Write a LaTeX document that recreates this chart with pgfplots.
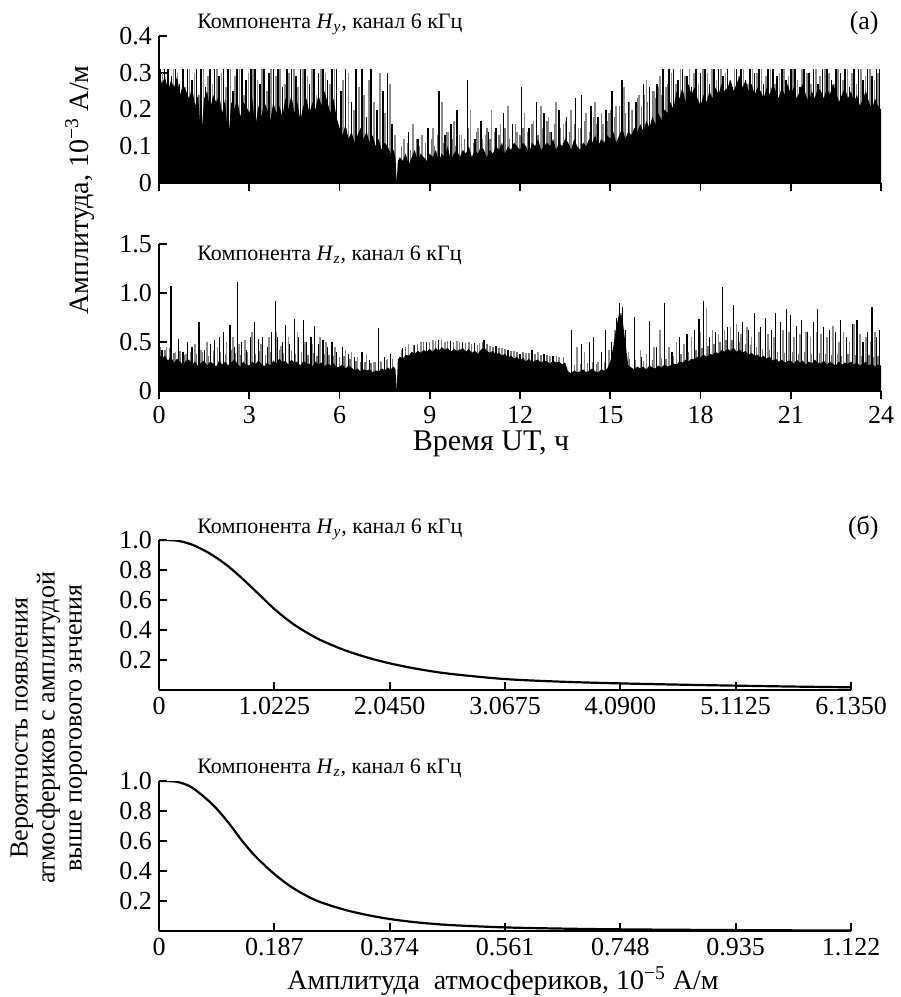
\documentclass[border=0pt]{standalone}
\usepackage{fontspec}
\setmainfont{Liberation Serif}
\usepackage{pgfplots}
\pgfplotsset{compat=1.18}
\newcommand{\Hy}{\textit{H}\textsubscript{\textit{y}}}
\newcommand{\Hz}{\textit{H}\textsubscript{\textit{z}}}
\pgfplotsset{
  base/.style={
    scale only axis, anchor=south west,
    axis x line=bottom, axis y line=left,
    axis line style={-, line width=1pt},
    major tick length=4pt,
    every tick/.style={line width=0.9pt, black},
    tick label style={font=\fontsize{13}{13}\selectfont},
    /pgf/number format/assume math mode=true,
  },
  spikeB/.style={ycomb, draw=black, line width=0.8pt, mark=none},
  spikeG/.style={ycomb, draw=black!45, line width=0.8pt, mark=none},
  hair/.style={ycomb, draw=black!55, line width=0.6pt, mark=none},
}
\begin{document}
\begin{tikzpicture}
\path (0,0) rectangle (447.5pt,-498.5pt);
% ---------------- panel 1: Hy ----------------
\begin{axis}[base, at={(79.5pt,-91.5pt)}, width=361pt, height=73.5pt,
  xmin=0, xmax=24, ymin=0, ymax=0.4,
  xtick={0,3,...,24}, xticklabels={}, xtick align=outside,
  ytick={0,0.1,0.2,0.3,0.4}, yticklabels={0,0.1,0.2,0.3,0.4}, ytick align=inside]
\addplot[hair] coordinates {
(8.05,0.10)(8.25,0.11)(8.35,0.09)(8.55,0.12)(8.65,0.10)(8.85,0.11)(9.05,0.12)(9.15,0.10)(9.25,0.13)(9.45,0.11)(9.55,0.14)(9.75,0.12)(9.85,0.10)(10.0,0.13)(10.15,0.12)(10.3,0.15)(10.45,0.11)(10.55,0.14)(10.75,0.12)(10.9,0.15)(11.0,0.12)(11.15,0.14)(11.3,0.13)(11.5,0.15)(11.65,0.12)(11.85,0.16)(12.0,0.13)(12.1,0.15)(12.25,0.14)(12.4,0.16)(12.6,0.13)(12.75,0.15)(12.9,0.17)(13.0,0.14)(13.15,0.16)(13.35,0.15)(13.5,0.17)(13.65,0.14)(13.8,0.16)(14.0,0.15)(14.15,0.17)(14.3,0.14)(14.45,0.18)(14.55,0.16)(14.7,0.19)(14.9,0.17)(15.0,0.2)(15.15,0.18)(15.3,0.21)(15.5,0.19)(15.65,0.22)(15.75,0.2)(15.9,0.23)(16.05,0.21)(16.15,0.24)(16.25,0.22)(16.4,0.25)(16.5,0.23)(16.6,0.26)(16.7,0.24)(16.9,0.27)
};
\addplot[spikeG] coordinates {
(0.12,0.3)(0.25,0.27)(0.48,0.31)(0.62,0.3)(0.88,0.26)(1.02,0.31)(1.18,0.3)(1.33,0.24)(1.48,0.31)(1.63,0.29)(1.78,0.27)(1.93,0.31)(2.08,0.3)(2.22,0.26)(2.38,0.31)(2.53,0.29)(2.68,0.31)(2.83,0.24)(2.98,0.3)(3.13,0.31)(3.28,0.28)(3.43,0.31)(3.58,0.25)(3.73,0.31)(3.88,0.29)(4.03,0.31)(4.18,0.27)(4.33,0.3)(4.48,0.31)(4.63,0.26)(4.78,0.31)(4.93,0.29)(5.08,0.31)(5.23,0.24)(5.38,0.31)(5.53,0.3)(5.68,0.27)(5.83,0.31)(6.12,0.28)(6.3,0.3)(6.48,0.2)(6.65,0.26)(6.82,0.24)(6.98,0.28)(7.15,0.22)(7.35,0.3)(7.52,0.19)(7.68,0.27)(7.85,0.13)
(8.15,0.12)(8.45,0.16)(8.75,0.13)(9.1,0.15)(9.4,0.22)(9.6,0.14)(9.8,0.17)(10.05,0.13)(10.35,0.2)(10.6,0.15)(10.85,0.13)(11.05,0.2)(11.35,0.16)(11.6,0.21)(11.9,0.14)(12.15,0.19)(12.45,0.17)(12.7,0.21)(12.95,0.18)(13.2,0.22)(13.45,0.16)(13.7,0.2)(13.95,0.15)(14.2,0.19)(14.5,0.22)(14.75,0.16)(14.95,0.19)(15.2,0.21)(15.45,0.26)(15.7,0.2)(15.95,0.24)(16.2,0.28)(16.45,0.25)(16.65,0.29)(16.85,0.26)
(17.03,0.3)(17.18,0.27)(17.33,0.31)(17.48,0.29)(17.63,0.31)(17.78,0.3)(17.93,0.27)(18.08,0.31)(18.23,0.3)(18.38,0.31)(18.53,0.28)(18.68,0.31)(18.83,0.3)(18.98,0.28)(19.13,0.31)(19.28,0.29)(19.43,0.31)(19.58,0.27)(19.73,0.31)(19.88,0.3)(20.03,0.31)(20.18,0.29)(20.33,0.31)(20.48,0.27)(20.63,0.3)(20.78,0.31)(20.93,0.29)(21.08,0.31)(21.23,0.28)(21.38,0.31)(21.53,0.3)(21.68,0.27)(21.83,0.31)(21.98,0.29)(22.13,0.31)(22.28,0.3)(22.43,0.27)(22.58,0.31)(22.73,0.28)(22.88,0.31)(23.03,0.3)(23.18,0.27)(23.33,0.31)(23.48,0.29)(23.63,0.31)(23.78,0.28)(23.9,0.3)
};
\addplot[spikeB] coordinates {
(0.05,0.31)(0.18,0.31)(0.3,0.31)(0.42,0.29)(0.55,0.31)(0.68,0.27)(0.8,0.31)(0.95,0.31)(1.1,0.28)(1.25,0.31)(1.4,0.31)(1.55,0.26)(1.7,0.31)(1.85,0.31)(2.0,0.29)(2.15,0.31)(2.3,0.31)(2.45,0.25)(2.6,0.31)(2.75,0.31)(2.9,0.28)(3.05,0.31)(3.2,0.31)(3.35,0.27)(3.5,0.31)(3.65,0.3)(3.8,0.31)(3.95,0.31)(4.1,0.26)(4.25,0.31)(4.4,0.31)(4.55,0.29)(4.7,0.31)(4.85,0.31)(5.0,0.27)(5.15,0.31)(5.3,0.3)(5.45,0.31)(5.6,0.28)(5.75,0.31)(5.9,0.31)(6.05,0.25)(6.2,0.31)(6.4,0.22)(6.55,0.31)(6.75,0.31)(6.9,0.18)(7.05,0.31)(7.25,0.2)(7.45,0.25)(7.6,0.3)(7.75,0.16)
(8.3,0.14)(8.6,0.12)(8.95,0.15)(9.3,0.25)(9.5,0.13)(9.7,0.16)(9.9,0.2)(10.25,0.28)(10.5,0.12)(10.7,0.17)(10.95,0.14)(11.2,0.15)(11.45,0.19)(11.75,0.16)(12.05,0.26)(12.3,0.15)(12.55,0.22)(12.8,0.19)(13.05,0.14)(13.3,0.2)(13.55,0.18)(13.85,0.23)(14.05,0.24)(14.35,0.21)(14.6,0.18)(14.85,0.2)(15.05,0.25)(15.4,0.28)(15.6,0.22)(15.85,0.22)(16.1,0.27)(16.3,0.26)(16.55,0.27)(16.75,0.31)
(16.95,0.31)(17.1,0.31)(17.25,0.28)(17.4,0.31)(17.55,0.29)(17.7,0.26)(17.85,0.31)(18.0,0.3)(18.15,0.31)(18.3,0.27)(18.45,0.31)(18.6,0.31)(18.75,0.29)(18.9,0.31)(19.05,0.26)(19.2,0.31)(19.35,0.31)(19.5,0.28)(19.65,0.31)(19.8,0.3)(19.95,0.31)(20.1,0.27)(20.25,0.31)(20.4,0.31)(20.55,0.29)(20.7,0.31)(20.85,0.28)(21.0,0.31)(21.15,0.31)(21.3,0.26)(21.45,0.31)(21.6,0.3)(21.75,0.31)(21.9,0.27)(22.05,0.31)(22.2,0.31)(22.35,0.28)(22.5,0.31)(22.65,0.3)(22.8,0.31)(22.95,0.26)(23.1,0.31)(23.25,0.31)(23.4,0.28)(23.55,0.31)(23.7,0.29)(23.85,0.31)(23.95,0.31)
};
\addplot[fill=black, draw=none] coordinates {
(0.0,0.30)(0.1,0.27)(0.2,0.29)(0.3,0.25)(0.4,0.28)(0.5,0.26)(0.6,0.29)(0.7,0.24)(0.8,0.27)(0.9,0.25)
(1.0,0.23)(1.1,0.26)(1.2,0.21)(1.3,0.24)(1.4,0.12)(1.5,0.23)(1.6,0.25)(1.7,0.20)(1.8,0.24)(1.9,0.22)
(2.0,0.24)(2.1,0.19)(2.2,0.23)(2.3,0.11)(2.4,0.22)(2.5,0.20)(2.6,0.23)(2.7,0.18)(2.8,0.22)(2.9,0.21)
(3.0,0.19)(3.1,0.23)(3.2,0.15)(3.3,0.21)(3.4,0.18)(3.5,0.22)(3.6,0.20)(3.7,0.17)(3.8,0.22)(3.9,0.19)
(4.0,0.21)(4.1,0.18)(4.2,0.23)(4.3,0.20)(4.4,0.24)(4.5,0.19)(4.6,0.22)(4.7,0.17)(4.8,0.21)(4.9,0.23)
(5.0,0.19)(5.1,0.22)(5.2,0.20)(5.3,0.24)(5.4,0.21)(5.5,0.25)(5.6,0.22)(5.7,0.19)(5.8,0.23)(5.9,0.18)
(6.0,0.15)(6.1,0.13)(6.2,0.16)(6.3,0.12)(6.4,0.14)(6.5,0.11)(6.6,0.13)(6.7,0.15)(6.8,0.12)(6.9,0.14)
(7.0,0.11)(7.1,0.13)(7.2,0.10)(7.3,0.12)(7.4,0.09)(7.5,0.11)(7.6,0.10)(7.7,0.08)(7.8,0.09)(7.86,0.07)(7.9,0.0)(7.94,0.06)
(8.0,0.07)(8.1,0.06)(8.2,0.08)(8.3,0.05)(8.4,0.07)(8.5,0.09)(8.6,0.06)(8.7,0.08)(8.8,0.07)(8.9,0.06)
(9.0,0.08)(9.1,0.07)(9.2,0.09)(9.3,0.06)(9.4,0.08)(9.5,0.07)(9.6,0.10)(9.7,0.06)(9.8,0.08)(9.9,0.09)
(10.0,0.07)(10.1,0.09)(10.2,0.08)(10.3,0.10)(10.4,0.07)(10.5,0.09)(10.6,0.08)(10.7,0.10)(10.8,0.09)(10.9,0.07)
(11.0,0.09)(11.1,0.08)(11.2,0.10)(11.3,0.09)(11.4,0.11)(11.5,0.08)(11.6,0.10)(11.7,0.09)(11.8,0.11)(11.9,0.10)
(12.0,0.09)(12.1,0.11)(12.2,0.10)(12.3,0.08)(12.4,0.11)(12.5,0.10)(12.6,0.12)(12.7,0.09)(12.8,0.10)(12.9,0.11)
(13.0,0.10)(13.1,0.12)(13.2,0.09)(13.3,0.11)(13.4,0.10)(13.5,0.12)(13.6,0.11)(13.7,0.09)(13.8,0.12)(13.9,0.10)
(14.0,0.09)(14.1,0.11)(14.2,0.10)(14.3,0.12)(14.4,0.11)(14.5,0.13)(14.6,0.10)(14.7,0.12)(14.8,0.11)(14.9,0.13)
(15.0,0.12)(15.1,0.14)(15.2,0.11)(15.3,0.13)(15.4,0.15)(15.5,0.12)(15.6,0.14)(15.7,0.13)(15.8,0.15)(15.9,0.14)
(16.0,0.16)(16.1,0.14)(16.2,0.17)(16.3,0.15)(16.4,0.18)(16.5,0.16)(16.6,0.19)(16.7,0.17)(16.8,0.20)(16.9,0.19)
(17.0,0.22)(17.1,0.20)(17.2,0.25)(17.3,0.23)(17.4,0.26)(17.5,0.22)(17.6,0.27)(17.7,0.24)(17.8,0.26)(17.9,0.23)
(18.0,0.21)(18.1,0.24)(18.2,0.22)(18.3,0.25)(18.4,0.23)(18.5,0.26)(18.6,0.24)(18.7,0.27)(18.8,0.25)(18.9,0.26)
(19.0,0.28)(19.1,0.25)(19.2,0.27)(19.3,0.29)(19.4,0.26)(19.5,0.28)(19.6,0.25)(19.7,0.27)(19.8,0.24)(19.9,0.26)
(20.0,0.25)(20.1,0.23)(20.2,0.26)(20.3,0.24)(20.4,0.27)(20.5,0.25)(20.6,0.23)(20.7,0.26)(20.8,0.24)(20.9,0.27)
(21.0,0.24)(21.1,0.26)(21.2,0.23)(21.3,0.25)(21.4,0.27)(21.5,0.24)(21.6,0.22)(21.7,0.25)(21.8,0.23)(21.9,0.26)
(22.0,0.25)(22.1,0.23)(22.2,0.26)(22.3,0.24)(22.4,0.27)(22.5,0.25)(22.6,0.22)(22.7,0.24)(22.8,0.26)(22.9,0.23)
(23.0,0.25)(23.1,0.22)(23.2,0.24)(23.3,0.21)(23.4,0.23)(23.5,0.25)(23.6,0.22)(23.7,0.20)(23.8,0.23)(23.9,0.21)(24.0,0.20)
} \closedcycle;
\end{axis}
% ---------------- panel 2: Hz ----------------
\begin{axis}[base, at={(79.5pt,-195.5pt)}, width=361pt, height=73.5pt,
  xmin=0, xmax=24, ymin=0, ymax=1.5,
  xtick={0,3,...,24}, xticklabels={0,3,6,9,12,15,18,21,24}, xtick align=outside,
  ytick={0,0.5,1.0,1.5}, yticklabels={0,0.5,1.0,1.5}, ytick align=inside]
\addplot[hair] coordinates {
(0.05,0.45)(0.2,0.42)(0.35,0.44)(0.5,0.39)(0.7,0.41)(0.85,0.37)(1.05,0.4)(1.25,0.38)(1.45,0.4)(1.65,0.36)(1.8,0.41)(2.05,0.4)(2.2,0.38)(2.4,0.42)(2.55,0.39)(2.7,0.37)(2.95,0.4)(3.2,0.38)(3.35,0.41)(3.55,0.37)(3.7,0.4)(4.0,0.42)(4.15,0.39)(4.4,0.41)(4.55,0.38)(4.75,0.4)(4.95,0.37)(5.15,0.39)(5.25,0.36)(5.5,0.38)(5.65,0.37)(5.8,0.36)(6.0,0.35)(6.15,0.36)(6.35,0.33)(6.55,0.31)(6.7,0.3)(6.85,0.3)(7.05,0.29)(7.2,0.3)(7.35,0.31)(7.55,0.32)(7.75,0.33)(8.05,0.42)(8.2,0.45)(8.45,0.47)(8.6,0.48)(8.8,0.5)(9.0,0.5)(9.2,0.51)(9.4,0.52)(9.6,0.51)(9.8,0.5)(10.0,0.5)(10.2,0.49)(10.4,0.48)(10.6,0.47)(10.75,0.5)(10.9,0.48)(11.1,0.45)(11.3,0.44)(11.5,0.43)(11.7,0.41)(11.9,0.4)(12.1,0.4)(12.3,0.39)(12.5,0.38)(12.7,0.37)(12.9,0.37)(13.2,0.36)(13.45,0.35)(13.8,0.27)(14.0,0.28)(14.25,0.29)(14.4,0.3)(14.55,0.28)(14.8,0.3)(15.65,0.33)(15.85,0.32)(16.1,0.31)(16.4,0.32)(16.7,0.34)(16.85,0.33)(17.1,0.36)(17.35,0.38)(17.6,0.4)(17.85,0.42)(18.05,0.44)(18.25,0.46)(18.45,0.48)(18.65,0.5)(18.85,0.52)(19.05,0.52)(19.3,0.5)(19.5,0.48)(19.65,0.47)(19.85,0.45)(20.05,0.43)(20.3,0.42)(20.55,0.4)(20.8,0.39)(21.05,0.4)(21.25,0.38)(21.45,0.4)(21.7,0.38)(21.95,0.39)(22.15,0.38)(22.35,0.37)(22.55,0.38)(22.7,0.36)(22.9,0.38)(23.15,0.37)(23.35,0.36)(23.6,0.37)(23.75,0.35)(23.9,0.36)
};
\addplot[spikeG] coordinates {
(0.25,0.45)(0.55,0.4)(0.9,0.38)(1.2,0.48)(1.4,0.42)(1.6,0.5)(1.95,0.45)(2.25,0.5)(2.45,0.55)(2.65,0.48)(2.85,0.52)(3.1,0.6)(3.4,0.48)(3.65,0.55)(3.9,0.6)(4.05,0.46)(4.3,0.55)(4.6,0.6)(4.85,0.5)(5.1,0.48)(5.35,0.55)(5.55,0.5)(5.85,0.45)(6.2,0.42)(6.4,0.4)(6.6,0.35)(6.9,0.38)(7.15,0.3)(7.4,0.3)(7.6,0.33)(8.3,0.48)(8.7,0.5)(9.1,0.52)(9.5,0.5)(9.9,0.51)(10.3,0.5)(10.65,0.49)(11.0,0.46)(11.4,0.44)(11.8,0.41)(12.2,0.39)(12.6,0.4)(13.0,0.36)(13.3,0.35)(13.9,0.45)(14.15,0.4)(14.6,0.3)(14.95,0.42)(15.15,0.62)(15.35,0.8)(15.6,0.4)(16.0,0.42)(16.2,0.38)(16.45,0.45)(16.65,0.62)(16.95,0.45)(17.2,0.5)(17.45,0.48)(17.7,0.55)(18.0,0.6)(18.2,0.85)(18.4,0.62)(18.6,0.58)(18.8,0.62)(19.0,0.65)(19.2,0.68)(19.35,0.58)(19.55,0.65)(19.7,0.55)(19.95,0.6)(20.25,0.58)(20.45,0.55)(20.75,0.62)(20.95,0.6)(21.1,0.55)(21.3,0.58)(21.5,0.6)(21.65,0.55)(21.85,0.6)(22.0,0.58)(22.2,0.55)(22.4,0.66)(22.6,0.5)(22.75,0.6)(22.95,0.5)(23.1,0.68)(23.3,0.58)(23.5,0.55)(23.65,0.5)(23.8,0.6)
};
\addplot[spikeB, line width=0.6pt] coordinates {
(0.1,0.42)(0.4,1.07)(0.65,0.53)(0.8,0.4)(0.95,0.5)(1.1,0.45)(1.33,0.7)(1.5,0.42)(1.7,0.48)(1.85,0.52)(2.0,0.55)(2.15,0.6)(2.36,0.67)(2.5,0.45)(2.6,1.11)(2.75,0.5)(2.9,0.42)(3.05,0.55)(3.17,0.7)(3.3,0.53)(3.45,0.55)(3.6,0.45)(3.75,0.6)(3.86,0.92)(3.95,0.55)(4.1,0.5)(4.2,0.67)(4.35,0.48)(4.5,0.73)(4.65,0.55)(4.79,0.72)(4.9,0.5)(5.05,0.55)(5.17,0.66)(5.3,0.48)(5.45,0.52)(5.6,0.45)(5.75,0.5)(5.9,0.4)(6.1,0.45)(6.3,0.38)(6.5,0.35)(6.75,0.4)(7.0,0.32)(7.3,0.64)(7.5,0.35)(7.7,0.38)(8.1,0.44)(8.5,0.47)(8.9,0.5)(9.3,0.52)(9.7,0.51)(10.1,0.5)(10.5,0.49)(10.8,0.52)(11.2,0.46)(11.6,0.42)(12.0,0.38)(12.4,0.42)(12.8,0.38)(13.1,0.36)(13.7,0.62)(14.05,0.48)(14.3,0.5)(14.45,0.55)(14.7,0.4)(14.85,0.62)(15.05,0.5)(15.2,0.75)(15.3,0.9)(15.4,0.86)(15.5,0.62)(15.8,0.76)(16.05,0.35)(16.3,0.71)(16.55,0.45)(16.8,0.9)(17.05,0.4)(17.3,0.55)(17.55,0.58)(17.8,0.62)(17.95,0.73)(18.1,0.92)(18.3,0.55)(18.5,0.6)(18.72,1.06)(18.9,0.65)(19.1,0.88)(19.25,0.6)(19.4,0.7)(19.6,0.62)(19.8,0.8)(20.0,0.65)(20.15,0.75)(20.35,0.62)(20.5,0.8)(20.65,0.7)(20.85,0.84)(21.0,0.78)(21.2,0.66)(21.35,0.72)(21.55,0.6)(21.75,0.7)(21.9,0.84)(22.1,0.65)(22.3,0.62)(22.5,0.6)(22.65,0.72)(22.85,0.55)(23.05,0.68)(23.2,0.72)(23.4,0.5)(23.55,0.6)(23.7,0.86)(23.85,0.55)(23.95,0.62)
};
\addplot[fill=black, draw=none] coordinates {
(0.0,0.38)(0.1,0.33)(0.2,0.36)(0.3,0.31)(0.4,0.35)(0.5,0.29)(0.6,0.33)(0.7,0.30)(0.8,0.27)(0.9,0.31)
(1.0,0.32)(1.1,0.27)(1.2,0.30)(1.3,0.25)(1.4,0.29)(1.5,0.31)(1.6,0.26)(1.7,0.30)(1.8,0.28)(1.9,0.25)
(2.0,0.31)(2.1,0.27)(2.2,0.30)(2.3,0.26)(2.4,0.29)(2.5,0.32)(2.6,0.28)(2.7,0.25)(2.8,0.30)(2.9,0.27)
(3.0,0.26)(3.1,0.30)(3.2,0.27)(3.3,0.31)(3.4,0.28)(3.5,0.25)(3.6,0.29)(3.7,0.26)(3.8,0.31)(3.9,0.28)
(4.0,0.33)(4.1,0.29)(4.2,0.31)(4.3,0.27)(4.4,0.32)(4.5,0.29)(4.6,0.30)(4.7,0.26)(4.8,0.31)(4.9,0.28)
(5.0,0.28)(5.1,0.25)(5.2,0.30)(5.3,0.27)(5.4,0.29)(5.5,0.25)(5.6,0.28)(5.7,0.26)(5.8,0.29)(5.9,0.24)
(6.0,0.25)(6.1,0.27)(6.2,0.23)(6.3,0.26)(6.4,0.24)(6.5,0.21)(6.6,0.23)(6.7,0.20)(6.8,0.22)(6.9,0.21)
(7.0,0.22)(7.1,0.19)(7.2,0.21)(7.3,0.20)(7.4,0.23)(7.5,0.21)(7.6,0.24)(7.7,0.22)(7.8,0.25)(7.86,0.22)(7.9,0.0)(7.94,0.32)
(8.0,0.35)(8.1,0.33)(8.2,0.37)(8.3,0.36)(8.4,0.40)(8.5,0.38)(8.6,0.41)(8.7,0.39)(8.8,0.42)(8.9,0.40)
(9.0,0.43)(9.1,0.40)(9.2,0.44)(9.3,0.41)(9.4,0.45)(9.5,0.42)(9.6,0.44)(9.7,0.40)(9.8,0.43)(9.9,0.41)
(10.0,0.42)(10.1,0.44)(10.2,0.40)(10.3,0.43)(10.4,0.39)(10.5,0.41)(10.6,0.38)(10.7,0.42)(10.8,0.45)(10.9,0.41)
(11.0,0.39)(11.1,0.41)(11.2,0.37)(11.3,0.39)(11.4,0.36)(11.5,0.38)(11.6,0.34)(11.7,0.36)(11.8,0.33)(11.9,0.35)
(12.0,0.31)(12.1,0.34)(12.2,0.30)(12.3,0.33)(12.4,0.29)(12.5,0.31)(12.6,0.32)(12.7,0.29)(12.8,0.31)(12.9,0.30)
(13.0,0.28)(13.1,0.31)(13.2,0.29)(13.3,0.30)(13.4,0.27)(13.5,0.29)(13.6,0.20)(13.7,0.18)(13.8,0.21)(13.9,0.19)
(14.0,0.20)(14.1,0.22)(14.2,0.19)(14.3,0.21)(14.4,0.23)(14.5,0.20)(14.6,0.19)(14.7,0.22)(14.8,0.21)(14.9,0.23)
(15.0,0.30)(15.1,0.45)(15.2,0.65)(15.3,0.80)(15.4,0.75)(15.5,0.50)(15.6,0.26)(15.7,0.24)(15.8,0.22)(15.9,0.25)
(16.0,0.23)(16.1,0.25)(16.2,0.22)(16.3,0.26)(16.4,0.24)(16.5,0.23)(16.6,0.26)(16.7,0.24)(16.8,0.27)(16.9,0.25)
(17.0,0.26)(17.1,0.28)(17.2,0.27)(17.3,0.30)(17.4,0.29)(17.5,0.32)(17.6,0.30)(17.7,0.33)(17.8,0.32)(17.9,0.35)
(18.0,0.34)(18.1,0.37)(18.2,0.35)(18.3,0.38)(18.4,0.37)(18.5,0.40)(18.6,0.38)(18.7,0.42)(18.8,0.40)(18.9,0.43)
(19.0,0.41)(19.1,0.44)(19.2,0.40)(19.3,0.42)(19.4,0.39)(19.5,0.41)(19.6,0.37)(19.7,0.39)(19.8,0.36)(19.9,0.37)
(20.0,0.34)(20.1,0.36)(20.2,0.33)(20.3,0.35)(20.4,0.31)(20.5,0.33)(20.6,0.30)(20.7,0.32)(20.8,0.29)(20.9,0.31)
(21.0,0.31)(21.1,0.28)(21.2,0.32)(21.3,0.29)(21.4,0.31)(21.5,0.27)(21.6,0.30)(21.7,0.28)(21.8,0.32)(21.9,0.29)
(22.0,0.28)(22.1,0.31)(22.2,0.27)(22.3,0.30)(22.4,0.28)(22.5,0.26)(22.6,0.30)(22.7,0.27)(22.8,0.29)(22.9,0.28)
(23.0,0.30)(23.1,0.27)(23.2,0.29)(23.3,0.26)(23.4,0.28)(23.5,0.30)(23.6,0.26)(23.7,0.28)(23.8,0.25)(23.9,0.27)(24.0,0.26)
} \closedcycle;
\end{axis}
% ---------------- panel 3 ----------------
\begin{axis}[base, at={(79.5pt,-345pt)}, width=346pt, height=75pt,
  xmin=0, xmax=6.135, ymin=0, ymax=1.0,
  xtick={0,1.0225,2.045,3.0675,4.09,5.1125,6.135},
  xticklabels={0,1.0225,2.0450,3.0675,4.0900,5.1125,6.1350}, xtick align=inside,
  ytick={0.2,0.4,0.6,0.8,1.0}, yticklabels={0.2,0.4,0.6,0.8,1.0}, ytick align=inside]
\addplot[smooth, line width=1.1pt, black] coordinates {
(0,1.0)(0.157,0.996)(0.30,0.967)(0.45,0.91)(0.60,0.833)(0.75,0.735)(0.90,0.628)(1.0225,0.54)(1.19,0.44)(1.40,0.345)(1.63,0.27)(1.84,0.218)(2.045,0.178)(2.28,0.142)(2.58,0.108)(3.0675,0.073)(3.58,0.055)(4.09,0.044)(4.6,0.036)(5.11,0.029)(5.62,0.023)(6.135,0.018)
};
\end{axis}
% ---------------- panel 4 ----------------
\begin{axis}[base, at={(79.5pt,-465.5pt)}, width=346pt, height=75pt,
  xmin=0, xmax=1.122, ymin=0, ymax=1.0,
  xtick={0,0.187,0.374,0.561,0.748,0.935,1.122},
  xticklabels={0,0.187,0.374,0.561,0.748,0.935,1.122}, xtick align=inside,
  ytick={0.2,0.4,0.6,0.8,1.0}, yticklabels={0.2,0.4,0.6,0.8,1.0}, ytick align=inside]
\addplot[smooth, line width=1.1pt, black] coordinates {
(0,1.0)(0.027,0.996)(0.049,0.967)(0.070,0.905)(0.092,0.822)(0.114,0.715)(0.135,0.60)(0.157,0.495)(0.187,0.38)(0.216,0.29)(0.254,0.205)(0.298,0.145)(0.336,0.108)(0.374,0.080)(0.417,0.058)(0.471,0.040)(0.561,0.024)(0.654,0.016)(0.748,0.011)(0.935,0.006)(1.122,0.003)
};
\end{axis}
% ---------------- texts ----------------
\begin{scope}[every node/.style={inner sep=0pt}]
\node[anchor=base west, font=\fontsize{11}{11}\selectfont] at (98.5pt,-14pt) {Компонента \Hy, канал 6 кГц};
\node[anchor=base west, font=\fontsize{11}{11}\selectfont] at (98.5pt,-130pt) {Компонента \Hz, канал 6 кГц};
\node[anchor=base west, font=\fontsize{11}{11}\selectfont] at (98.5pt,-266.5pt) {Компонента \Hy, канал 6 кГц};
\node[anchor=base west, font=\fontsize{11}{11}\selectfont] at (98.5pt,-386.5pt) {Компонента \Hz, канал 6 кГц};
\node[anchor=base east, font=\fontsize{13}{13}\selectfont] at (439.5pt,-14.5pt) {(а)};
\node[anchor=base east, font=\fontsize{13}{13}\selectfont] at (439.5pt,-267pt) {(б)};
\node[font=\fontsize{15}{15}\selectfont] at (245.5pt,-222pt) {Время UT, ч};
\node[font=\fontsize{14}{14}\selectfont] at (251.5pt,-490.5pt) {Амплитуда\ \ атмосфериков, 10\textsuperscript{−5} А/м};
\node[rotate=90, font=\fontsize{14}{14}\selectfont] at (40pt,-95pt) {Амплитуда, 10\textsuperscript{−3} А/м};
\node[rotate=90, align=center, font=\fontsize{13}{13.5}\selectfont] at (24.5pt,-364pt) {Вероятность появления\\атмосфериков с амплитудой\\выше порогового знчения};
\end{scope}
\end{tikzpicture}
\end{document}
